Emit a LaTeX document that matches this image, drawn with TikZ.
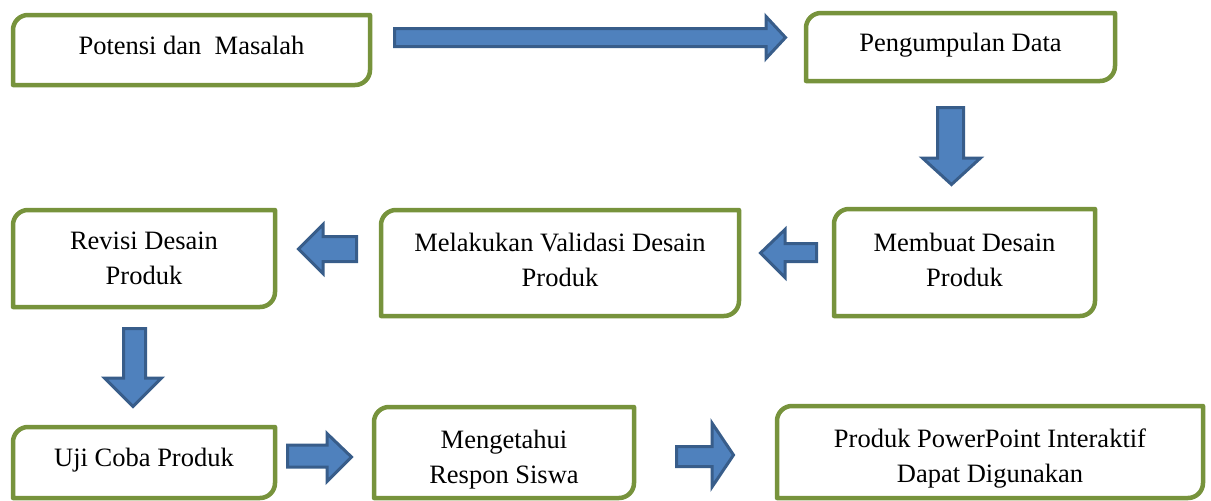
\documentclass[tikz,border=0pt]{standalone}
\usepackage{fontspec}
\setmainfont{Liberation Serif}
\definecolor{boxgreen}{HTML}{77933C}
\definecolor{arrfill}{HTML}{4F81BD}
\definecolor{arrline}{HTML}{385D8A}
\tikzset{
  box/.style={draw=none, inner sep=0pt, outer sep=0pt},
  boxtext/.style={inner sep=0pt, align=center,
    font=\fontsize{26.5}{35}\selectfont},
  boxline/.style={draw=boxgreen, line width=4.5pt, line join=round},
  blockarrow/.style={draw=arrline, fill=arrfill, line width=3pt, line join=miter}
}
\newcommand\gborder[1]{%
  \draw[boxline] (#1.south west) -- ([yshift=-15pt]#1.north west)
    arc[start angle=180,end angle=90,radius=15pt] -- (#1.north east)
    -- ([yshift=15pt]#1.south east)
    arc[start angle=0,end angle=-90,radius=15pt] -- cycle;}
\begin{document}
\begin{tikzpicture}[x=1pt,y=1pt]
\useasboundingbox (0,-501) rectangle (1211,0);
% box frames
\node[box, minimum width=357pt, minimum height=70pt] (p1) at (191.5,-50) {};
\node[box, minimum width=309pt, minimum height=68pt] (p2) at (960.5,-47) {};
\node[box, minimum width=261pt, minimum height=107pt] (p3) at (964.5,-262.5) {};
\node[box, minimum width=358pt, minimum height=106pt] (p4) at (560,-263) {};
\node[box, minimum width=262pt, minimum height=97pt] (p5) at (144,-258.5) {};
\node[box, minimum width=262pt, minimum height=71pt] (p6) at (144,-462.5) {};
\node[box, minimum width=260pt, minimum height=91pt] (p7) at (504,-452.5) {};
\node[box, minimum width=426pt, minimum height=92pt] (p8) at (990,-452) {};
\foreach \n in {p1,p2,p3,p4,p5,p6,p7,p8} {\gborder{\n}}
% texts
\node[boxtext] (t1) at ([yshift=5pt]p1.center) {Potensi dan\ \ Masalah};
\node[boxtext] (t2) at ([yshift=2pt]p2.center) {Pengumpulan Data};
\node[boxtext] (t3) at ([yshift=3pt]p3.center) {Membuat Desain\\Produk};
\node[boxtext] (t4) at ([yshift=3pt]p4.center) {Melakukan Validasi Desain\\Produk};
\node[boxtext] (t5) at (p5.center) {Revisi Desain\\Produk};
\node[boxtext] (t6) at ([yshift=2pt]p6.center) {Uji Coba Produk};
\node[boxtext] (t7) at ([yshift=-7pt]p7.center) {Mengetahui\\Respon Siswa};
\node[boxtext] (t8) at ([yshift=-7pt]p8.center) {Produk PowerPoint Interaktif\\Dapat Digunakan};
% block arrows
% p1 -> p2
\draw[blockarrow] (394.5,-28.5) -- (766,-28.5) -- (766,-16.5) -- (785.5,-37.5)
  -- (766,-58.5) -- (766,-46.5) -- (394.5,-46.5) -- cycle;
% p2 -> p3
\draw[blockarrow] (937.5,-107.5) -- (963.5,-107.5) -- (963.5,-158) -- (980.5,-158)
  -- (951.5,-184.5) -- (922.5,-158) -- (937.5,-158) -- cycle;
% p3 -> p4
\draw[blockarrow] (816.5,-243.5) -- (785,-243.5) -- (785,-229.5) -- (760.5,-253)
  -- (785,-277.5) -- (785,-261.5) -- (816.5,-261.5) -- cycle;
% p4 -> p5
\draw[blockarrow] (356.5,-236.5) -- (323,-236.5) -- (323,-224.5) -- (298.5,-249)
  -- (323,-273.5) -- (323,-261.5) -- (356.5,-261.5) -- cycle;
% p5 -> p6
\draw[blockarrow] (123.5,-328.5) -- (145.5,-328.5) -- (145.5,-378) -- (161.5,-378)
  -- (133,-406.5) -- (104.5,-378) -- (123.5,-378) -- cycle;
% p6 -> p7
\draw[blockarrow] (287.5,-445) -- (327,-445) -- (327,-433.5) -- (351.5,-457)
  -- (327,-481.5) -- (327,-467) -- (287.5,-467) -- cycle;
% p7 -> p8
\draw[blockarrow] (676.5,-446.5) -- (712,-446.5) -- (712,-423) -- (733.5,-455)
  -- (712,-487) -- (712,-466.5) -- (676.5,-466.5) -- cycle;
\end{tikzpicture}
\end{document}
